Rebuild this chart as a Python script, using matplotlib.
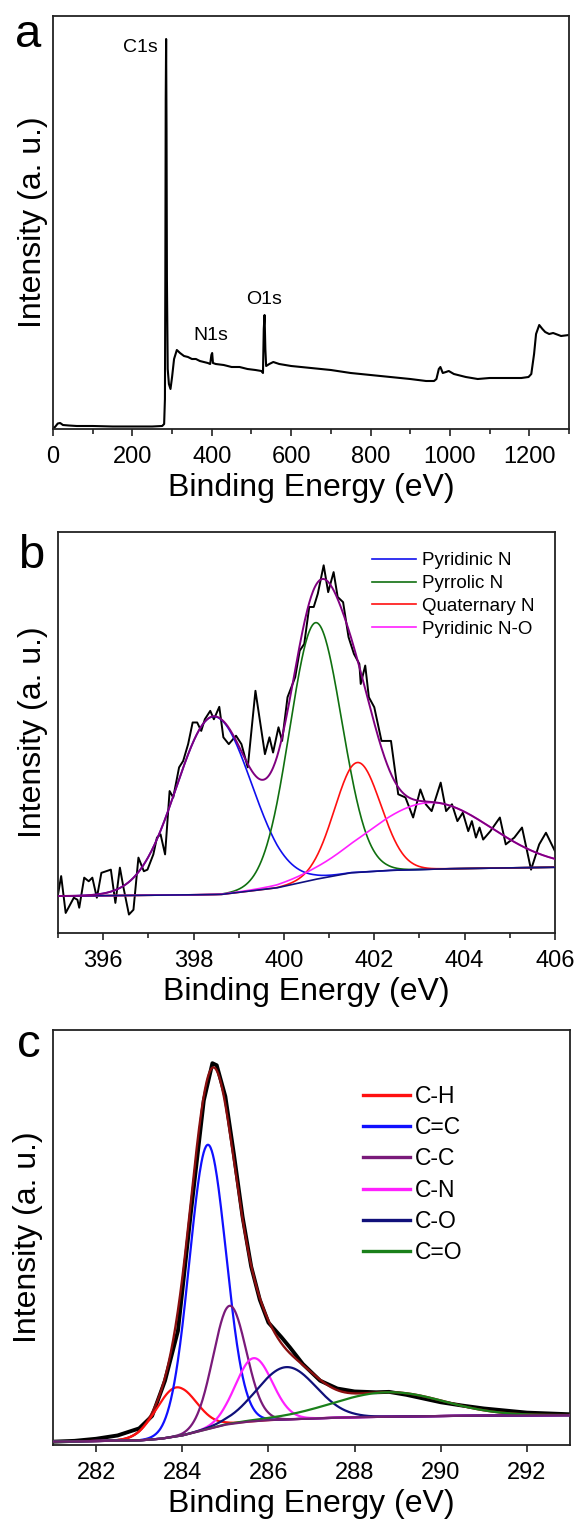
import numpy as np
import matplotlib
matplotlib.use('Agg')
import matplotlib.pyplot as plt
from matplotlib.ticker import MultipleLocator

plt.rcParams['font.family'] = ['Liberation Sans', 'DejaVu Sans']

# ---------------- Panel a: survey spectrum ----------------
survey_ev = [0, 5, 12, 18, 25, 40, 60, 100, 150, 200, 250, 275, 280, 282, 283, 284, 285,
             286, 287, 289, 292, 296, 300, 305, 312, 320, 330, 340, 350, 360, 370, 380,
             390, 396, 399, 401, 403, 410, 430, 450, 470, 490, 510, 525, 529, 531, 533,
             535, 537, 545, 555, 570, 600, 650, 700, 750, 800, 850, 900, 940, 960, 966,
             972, 976, 982, 990, 997, 1010, 1040, 1070, 1100, 1150, 1180, 1198, 1205,
             1212, 1217, 1225, 1233, 1240, 1250, 1260, 1280, 1300]
survey_int = [1, 2, 5.5, 6, 4, 3.5, 3, 3, 2.5, 2.5, 2.5, 3, 5, 30, 150, 330, 390,
              300, 150, 60, 45, 40, 52, 70, 79, 76, 73, 72, 70, 70, 68, 67,
              66, 65, 74, 76, 66, 65, 64, 62, 62, 60, 59, 58, 56, 100, 114,
              80, 63, 65, 67, 65, 63, 61, 59, 56, 54, 52, 50, 48, 48, 50,
              60, 62, 56, 57, 58, 55, 52, 50, 51, 51, 51, 52, 55,
              75, 95, 104, 100, 97, 95, 96, 93, 94]
survey_labels = ['C1s', 'N1s', 'O1s']
survey_label_ev = [219, 398, 532]
survey_label_int = [382, 93, 129]

# ---------------- Panel b: N1s ----------------
n_raw_ev = [395.00, 395.07, 395.17, 395.35, 395.43, 395.47, 395.58, 395.68, 395.76, 395.86,
            395.96, 396.17, 396.27, 396.37, 396.45, 396.57, 396.67, 396.78, 396.90, 396.98,
            397.11, 397.19, 397.27, 397.37, 397.47, 397.55, 397.68, 397.77, 397.88, 397.98,
            398.08, 398.17, 398.25, 398.37, 398.45, 398.57, 398.66, 398.78, 398.94, 399.06,
            399.20, 399.37, 399.58, 399.68, 399.76, 399.88, 399.96, 400.08, 400.25, 400.35,
            400.45, 400.56, 400.66, 400.75, 400.88, 400.98, 401.10, 401.19, 401.31, 401.43,
            401.55, 401.67, 401.70, 401.80, 401.88, 402.00, 402.16, 402.37, 402.53, 402.69,
            402.86, 403.02, 403.14, 403.27, 403.47, 403.59, 403.72, 403.84, 403.96, 404.08,
            404.16, 404.25, 404.33, 404.41, 404.57, 404.78, 404.91, 405.10, 405.27, 405.47,
            405.65, 405.80, 406.00]
n_raw_int = [9.6, 14.2, 5.0, 8.8, 8.3, 6.3, 13.8, 12.9, 13.8, 8.8,
             15.0, 15.8, 7.5, 16.3, 11.3, 4.6, 5.8, 18.8, 15.4, 15.8,
             19.6, 23.8, 24.6, 19.6, 35.4, 33.8, 41.3, 42.9, 47.1, 52.5,
             52.5, 50.4, 53.3, 55.4, 53.3, 56.4, 48.8, 47.1, 49.2, 47.1,
             41.3, 60.4, 44.6, 48.8, 45.0, 51.3, 47.9, 58.8, 63.8, 70.4,
             72.1, 81.3, 81.3, 84.6, 91.7, 85.0, 90.0, 83.8, 82.5, 73.8,
             69.6, 67.1, 62.1, 66.7, 58.8, 56.3, 47.9, 47.9, 34.6, 33.8,
             28.8, 35.8, 32.1, 30.4, 37.5, 30.4, 32.1, 27.9, 30.0, 25.4,
             27.9, 23.8, 26.3, 23.3, 25.4, 28.8, 22.1, 23.8, 26.3, 15.8,
             22.1, 25.0, 20.4]
n_base_ev = [395, 397, 398.6, 399.84, 400.66, 401.47, 402.29, 403.5, 406]
n_base_int = [9.2, 9.4, 9.6, 11.25, 13.3, 15.0, 15.6, 16.0, 16.4]
n_names = ['Pyridinic N', 'Pyrrolic N', 'Quaternary N', 'Pyridinic N-O']
n_centers = [398.45, 400.70, 401.63, 403.23]
n_heights = [44.4, 64.0, 27.4, 16.6]
n_fwhm = [1.95, 1.35, 1.2, 3.2]
n_colors = ['#1010ee', '#107010', '#ff1010', '#ff20ff']

# ---------------- Panel c: C1s ----------------
c_raw_ev = [281, 281.5, 282, 282.5, 283, 283.3, 283.6, 283.9, 284.2, 284.5, 284.7, 284.8,
            285.0, 285.2, 285.4, 285.6, 285.8, 286.0, 286.3, 286.5, 286.8, 287.2, 287.6,
            288.0, 288.5, 288.8, 289.2, 289.6, 290.0, 290.5, 291.0, 291.5, 292.0, 292.5, 293.0]
c_raw_int = [0.8, 1.0, 1.5, 2.3, 4.0, 7.0, 15.5, 27.5, 56, 83, 92, 91.5,
             84, 70, 55, 43, 35, 29.5, 26, 23.5, 19.5, 15.5, 13.6,
             12.9, 12.7, 12.8, 12.1, 11.2, 10.3, 9.5, 8.8, 8.3, 7.8, 7.6, 7.4]
c_base_ev = [281, 283, 283.5, 284, 284.5, 285, 285.5, 286, 287, 288, 290, 293]
c_base_int = [0.8, 1.1, 1.5, 2.3, 3.6, 4.9, 5.6, 6.0, 6.4, 6.7, 7.0, 7.2]
c_names = ['C-H', 'C=C', 'C-C', 'C-N', 'C-O', 'C=O']
c_centers = [283.86, 284.59, 285.10, 285.66, 286.42, 288.78]
c_heights = [11.8, 68.5, 28.5, 15.2, 12.6, 5.9]
c_fwhm = [1.1, 1.0, 0.9, 1.0, 1.6, 3.0]
c_colors = ['#ff1010', '#1010ff', '#7a1a7a', '#ff20ff', '#10107a', '#1a801a']


def gauss(x, c, h, w):
    s = w / 2.3548
    return h * np.exp(-0.5 * ((x - c) / s) ** 2)


W, H = 579, 1531
fig = plt.figure(figsize=(W / 100, H / 100), dpi=100)


def px_axes(l, t, r, b):
    return fig.add_axes([l / W, 1 - b / H, (r - l) / W, (b - t) / H])


ax_a = px_axes(53, 16, 569, 429)
ax_b = px_axes(58, 532, 555, 933)
ax_c = px_axes(53, 1030, 570, 1445)

TICK_FS = 17
LABEL_FS = 23

for ax in (ax_a, ax_b, ax_c):
    for s in ax.spines.values():
        s.set_linewidth(1.3)
        s.set_color('#222222')
    ax.tick_params(axis='y', left=False, labelleft=False)
    ax.tick_params(axis='x', which='major', direction='out', length=5, width=1.2,
                   labelsize=TICK_FS, pad=7, color='#222222')
    ax.tick_params(axis='x', which='minor', direction='out', length=3.5, width=1.2,
                   color='#222222')
    ax.set_xlabel('Binding Energy (eV)', fontsize=LABEL_FS, labelpad=4)
    ax.set_ylabel('Intensity (a. u.)', fontsize=LABEL_FS)

# Panel a
ax_a.plot(survey_ev, survey_int, color='black', lw=1.5)
ax_a.set_xlim(0, 1300)
ax_a.set_ylim(0, 413)
ax_a.xaxis.set_major_locator(MultipleLocator(200))
ax_a.xaxis.set_minor_locator(MultipleLocator(100))
for lab, xv, yv in zip(survey_labels, survey_label_ev, survey_label_int):
    ax_a.text(xv, yv, lab, fontsize=14, ha='center', va='center')
ax_a.yaxis.set_label_coords(-0.010, 0.5)

# Panel b
xb = np.linspace(395, 406, 800)
base_b = np.interp(xb, n_base_ev, n_base_int)
ax_b.plot(n_raw_ev, n_raw_int, color='black', lw=1.4, zorder=2)
env_b = base_b.copy()
for nm, c, h, w, col in zip(n_names, n_centers, n_heights, n_fwhm, n_colors):
    comp = gauss(xb, c, h, w)
    env_b = env_b + comp
    ax_b.plot(xb, base_b + comp, color=col, lw=1.2, label=nm, zorder=3)
ax_b.plot(xb, base_b, color='#101080', lw=1.2, zorder=3)
ax_b.plot(xb, env_b, color='#800080', lw=1.4, zorder=4)
ax_b.set_xlim(395, 406)
ax_b.set_ylim(0, 100)
ax_b.xaxis.set_major_locator(MultipleLocator(2))
ax_b.xaxis.set_minor_locator(MultipleLocator(1))
ax_b.legend(loc='upper left', bbox_to_anchor=(0.632, 0.95), frameon=False,
            fontsize=13.5, handlelength=2.35, handletextpad=0.3, labelspacing=0.31,
            borderpad=0, borderaxespad=0)
ax_b.yaxis.set_label_coords(-0.020, 0.5)

# Panel c
xc = np.linspace(281, 293, 900)
base_c = np.interp(xc, c_base_ev, c_base_int)
ax_c.plot(c_raw_ev, c_raw_int, color='black', lw=2.8, zorder=2)
env_c = base_c.copy()
comps = []
for c, h, w in zip(c_centers, c_heights, c_fwhm):
    comp = gauss(xc, c, h, w)
    comps.append(comp)
    env_c = env_c + comp
ax_c.plot(xc, env_c, color='#8a0f0f', lw=1.7, zorder=3)
for nm, comp, col in zip(c_names, comps, c_colors):
    ax_c.plot(xc, base_c + comp, color=col, lw=1.6, label=nm, zorder=4)
ax_c.plot(xc, base_c, color='#702070', lw=1.6, zorder=4)
ax_c.set_xlim(281, 293)
ax_c.set_ylim(0, 100)
ax_c.xaxis.set_major_locator(MultipleLocator(2))
ax_c.legend(loc='upper left', bbox_to_anchor=(0.60, 0.868), frameon=False,
            fontsize=16.5, handlelength=2.05, handletextpad=0.2, labelspacing=0.36,
            borderpad=0, borderaxespad=0)
for lh in ax_c.get_legend().get_lines():
    lh.set_linewidth(2.4)
ax_c.yaxis.set_label_coords(-0.020, 0.5)

# Panel letters
for letter, lx, ly in (('a', 15, 47), ('b', 18, 568), ('c', 17, 1057)):
    fig.text(lx / W, 1 - ly / H, letter, fontsize=34, ha='left', va='baseline')

fig.savefig('out.png', dpi=100)
